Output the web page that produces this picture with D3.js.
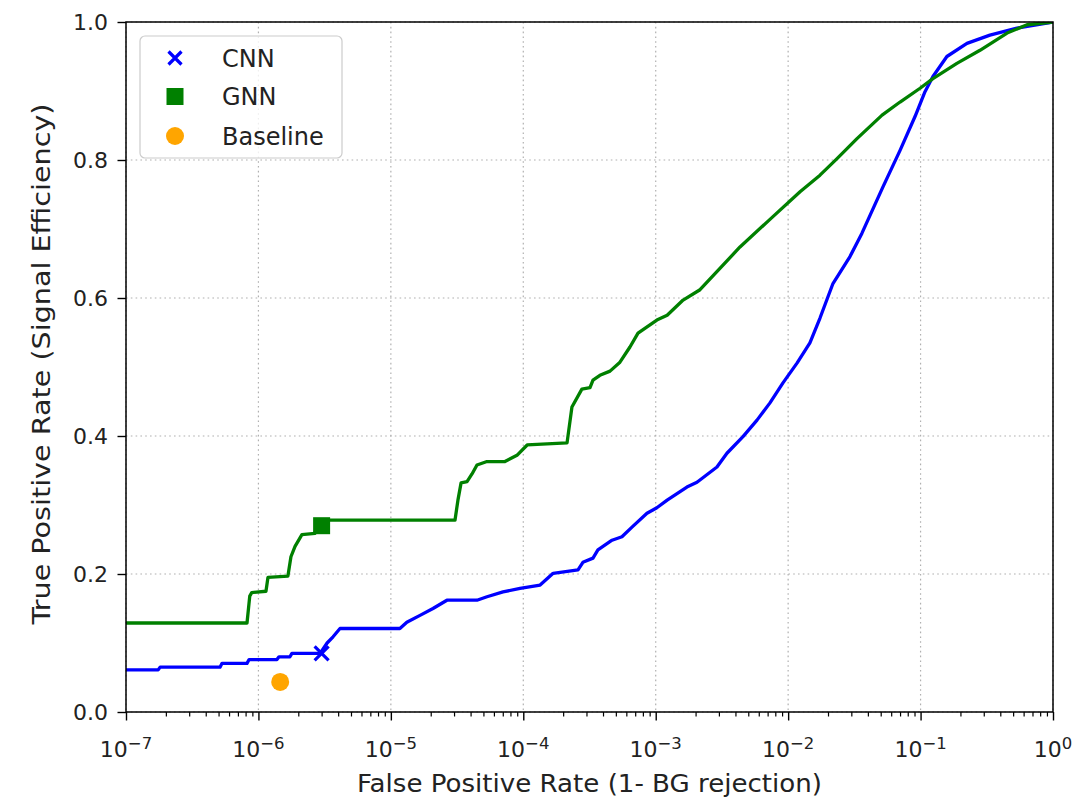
<!DOCTYPE html>
<html><head><meta charset="utf-8">
<script src="https://cdn.jsdelivr.net/npm/d3@7"></script>
<style>body{margin:0;background:#fff}</style>
</head><body><svg id="chart" width="1089" height="799"></svg>
<script>
// ---- data ----
const cnnFPR = [1e-7,1.75e-7,1.81e-7,5.13e-7,5.31e-7,8.2e-7,8.5e-7,1.38e-6,1.43e-6,1.73e-6,1.79e-6,2.92e-6,3.3e-6,3.66e-6,4.13e-6,1.17e-5,1.32e-5,1.66e-5,2.08e-5,2.65e-5,4.47e-5,5.32e-5,7.03e-5,9.45e-5,1.34e-4,1.68e-4,2.59e-4,2.82e-4,3.36e-4,3.66e-4,4.68e-4,5.56e-4,6.62e-4,8.59e-4,1.02e-3,1.22e-3,1.72e-3,2.05e-3,2.9e-3,3.45e-3,4.56e-3,5.82e-3,7.29e-3,9.14e-3,0.0117,0.0146,0.0174,0.0218,0.0293,0.0361,0.052,0.070,0.0908,0.108,0.124,0.158,0.224,0.334,0.534,1.0];
const cnnTPR = [0.061,0.061,0.065,0.065,0.0705,0.0705,0.076,0.076,0.080,0.080,0.085,0.085,0.100,0.109,0.121,0.121,0.130,0.140,0.150,0.162,0.162,0.167,0.174,0.179,0.184,0.201,0.206,0.217,0.223,0.235,0.249,0.254,0.268,0.288,0.296,0.307,0.326,0.333,0.355,0.375,0.399,0.423,0.448,0.477,0.506,0.535,0.571,0.621,0.660,0.694,0.761,0.814,0.863,0.899,0.921,0.950,0.969,0.981,0.991,1.0];
const gnnFPR = [1e-7,8.2e-7,8.6e-7,8.9e-7,1.14e-6,1.18e-6,1.67e-6,1.76e-6,1.89e-6,2.13e-6,2.67e-6,2.82e-6,3.05e-5,3.21e-5,3.39e-5,3.76e-5,4.1e-5,4.47e-5,5.32e-5,7.27e-5,8.96e-5,1.07e-4,2.14e-4,2.33e-4,2.77e-4,3.19e-4,3.36e-4,3.79e-4,4.52e-4,5.37e-4,6.39e-4,7.35e-4,1.02e-3,1.22e-3,1.61e-3,2.16e-3,4.33e-3,7.29e-3,0.0123,0.0174,0.0234,0.0331,0.0512,0.070,0.0991,0.124,0.188,0.281,0.450,0.637,1.0];
const gnnTPR = [0.129,0.129,0.168,0.173,0.175,0.195,0.197,0.225,0.240,0.257,0.259,0.278,0.278,0.307,0.332,0.334,0.345,0.358,0.363,0.363,0.372,0.387,0.390,0.442,0.468,0.470,0.481,0.488,0.494,0.507,0.529,0.549,0.568,0.575,0.597,0.612,0.674,0.714,0.754,0.778,0.802,0.831,0.865,0.884,0.904,0.918,0.940,0.959,0.984,0.996,1.0];
// operating points: [FPR, TPR]
const cnnPoint = [3.0e-6, 0.085];
const gnnPoint = [3.0e-6, 0.270];
const basePoint = [1.46e-6, 0.0435];
const legendLabels = ["CNN","GNN","Baseline"];
const xTickExps = [-7,-6,-5,-4,-3,-2,-1,0];
const yTicks = [0.0,0.2,0.4,0.6,0.8,1.0];
const xLabel = "False Positive Rate (1- BG rejection)";
const yLabel = "True Positive Rate (Signal Efficiency)";

// ---- layout ----
const W=1089,H=799,m={l:126,r:36,t:22,b:87};
const svg=d3.select("#chart");
const x=d3.scaleLog().domain([1e-7,1]).range([m.l,W-m.r]);
const y=d3.scaleLinear().domain([0,1]).range([H-m.b,m.t]);
const blue="#0000ff", green="#008000", orange="#ffa500";
const font="DejaVu Sans";

svg.append("defs").append("clipPath").attr("id","clip").append("rect")
  .attr("x",m.l).attr("y",m.t).attr("width",W-m.l-m.r).attr("height",H-m.t-m.b);

// grid
const grid=svg.append("g").attr("stroke","#b0b0b0").attr("stroke-width",1.2).attr("stroke-dasharray","1.6,3.2");
xTickExps.forEach(e=>{grid.append("line").attr("x1",x(10**e)).attr("x2",x(10**e)).attr("y1",m.t).attr("y2",H-m.b);});
yTicks.forEach(v=>{grid.append("line").attr("x1",m.l).attr("x2",W-m.r).attr("y1",y(v)).attr("y2",y(v));});

// axes ticks via d3 axes
const minor=[];
xTickExps.slice(0,-1).forEach(e=>{for(let k=2;k<10;k++)minor.push(k*10**e);});
svg.append("g").attr("transform",`translate(0,${H-m.b})`)
  .call(d3.axisBottom(x).tickValues(minor).tickSize(4.5).tickFormat(""))
  .call(g=>{g.select(".domain").remove();g.selectAll("line").attr("stroke","#000").attr("stroke-width",1.2);});
svg.append("g").attr("transform",`translate(0,${H-m.b})`)
  .call(d3.axisBottom(x).tickValues(xTickExps.map(e=>10**e)).tickSize(8.5).tickFormat(""))
  .call(g=>{g.select(".domain").remove();g.selectAll("line").attr("stroke","#000").attr("stroke-width",1.4);});
svg.append("g").attr("transform",`translate(${m.l},0)`)
  .call(d3.axisLeft(y).tickValues(yTicks).tickSize(8.5).tickFormat(""))
  .call(g=>{g.select(".domain").remove();g.selectAll("line").attr("stroke","#000").attr("stroke-width",1.4);});

// x tick labels
xTickExps.forEach(e=>{
  const t=svg.append("text").attr("x",x(10**e)).attr("y",757).attr("text-anchor","middle")
    .attr("font-family",font).attr("font-size",22).attr("fill","#222");
  t.append("tspan").text("10");
  t.append("tspan").attr("dy",-8).attr("font-size",16.5).text(e<0?"\u2212"+(-e):String(e));
});
// y tick labels
yTicks.forEach(v=>{
  svg.append("text").attr("x",108).attr("y",y(v)).attr("dy","0.36em").attr("text-anchor","end")
    .attr("font-family",font).attr("font-size",22).attr("fill","#222").text(d3.format(".1f")(v));
});

// axis labels
svg.append("text").attr("x",(m.l+W-m.r)/2).attr("y",792).attr("text-anchor","middle")
  .attr("font-family",font).attr("font-size",24.5).attr("fill","#222")
  .attr("textLength",465).attr("lengthAdjust","spacingAndGlyphs").text(xLabel);
svg.append("text").attr("transform",`translate(50,${(m.t+H-m.b)/2-3}) rotate(-90)`).attr("text-anchor","middle")
  .attr("font-family",font).attr("font-size",24).attr("fill","#222")
  .attr("textLength",521).attr("lengthAdjust","spacingAndGlyphs").text(yLabel);

// curves
const line=d3.line().x(d=>x(d[0])).y(d=>y(d[1]));
const plot=svg.append("g").attr("clip-path","url(#clip)");
plot.append("path").datum(d3.zip(cnnFPR,cnnTPR)).attr("d",line).attr("fill","none")
  .attr("stroke",blue).attr("stroke-width",3.3).attr("stroke-linejoin","round");
plot.append("path").datum(d3.zip(gnnFPR,gnnTPR)).attr("d",line).attr("fill","none")
  .attr("stroke",green).attr("stroke-width",3.3).attr("stroke-linejoin","round");

// markers
function drawX(g,cx,cy,s){
  g.append("path").attr("d",`M${cx-s},${cy-s}L${cx+s},${cy+s}M${cx-s},${cy+s}L${cx+s},${cy-s}`)
    .attr("stroke",blue).attr("stroke-width",3.2).attr("fill","none");
}
function drawSq(g,cx,cy,s){
  g.append("rect").attr("x",cx-s).attr("y",cy-s).attr("width",2*s).attr("height",2*s).attr("fill",green);
}
function drawCirc(g,cx,cy,r){
  g.append("circle").attr("cx",cx).attr("cy",cy).attr("r",r).attr("fill",orange);
}
const mk=svg.append("g");
drawX(mk,x(cnnPoint[0]),y(cnnPoint[1]),7);
drawSq(mk,x(gnnPoint[0]),y(gnnPoint[1]),8.5);
drawCirc(mk,x(basePoint[0]),y(basePoint[1]),9);

// frame
svg.append("rect").attr("x",m.l).attr("y",m.t).attr("width",W-m.l-m.r).attr("height",H-m.t-m.b)
  .attr("fill","none").attr("stroke","#000").attr("stroke-width",1.5);

// legend
const lg=svg.append("g");
lg.append("rect").attr("x",140).attr("y",36).attr("width",202).attr("height",122).attr("rx",5)
  .attr("fill","#fff").attr("fill-opacity",0.8).attr("stroke","#cccccc").attr("stroke-width",1.2);
const ly=[58,96.5,136];
drawX(lg,175,ly[0],6.5);
drawSq(lg,175,ly[1],8.5);
drawCirc(lg,175,ly[2],9);
legendLabels.forEach((t,i)=>{
  lg.append("text").attr("x",222).attr("y",ly[i]).attr("dy","0.36em").attr("font-family",font)
    .attr("font-size",24).attr("fill","#222").text(t);
});
</script></body></html>
